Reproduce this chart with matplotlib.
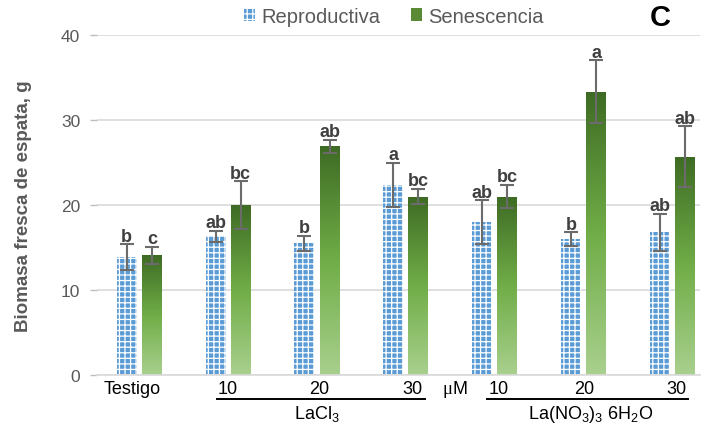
import numpy as np
import matplotlib
matplotlib.use("Agg")
import matplotlib.pyplot as plt
from matplotlib.patches import Patch
from matplotlib.lines import Line2D

plt.rcParams["font.family"] = ["Liberation Sans", "DejaVu Sans"]
plt.rcParams["mathtext.fontset"] = "custom"
plt.rcParams["mathtext.rm"] = "Liberation Sans"
plt.rcParams["mathtext.it"] = "Liberation Sans:italic"
plt.rcParams["hatch.linewidth"] = 0.9

categories = ["Testigo", "10", "20", "30", "10", "20", "30"]
repro = [13.9, 16.3, 15.5, 22.4, 18.0, 16.0, 16.8]
repro_err = [1.5, 0.7, 0.9, 2.6, 2.6, 0.8, 2.2]
senes = [14.1, 20.0, 26.9, 21.0, 21.0, 33.3, 25.7]
senes_err = [1.0, 2.8, 0.8, 0.9, 1.4, 3.7, 3.6]
repro_letters = ["b", "ab", "b", "a", "ab", "b", "ab"]
senes_letters = ["c", "bc", "ab", "bc", "bc", "a", "ab"]

BLUE = "#5B9BD5"
GREEN_TOP = "#3E6B24"
GREEN_BOTTOM = "#A9D08E"
GRAY = "#595959"
ERR = "#6B6B6B"
HATCH = "|||---"

fig = plt.figure(figsize=(7.07, 4.27), dpi=100)
ax = fig.add_axes([0.137, 0.1194, 0.853, 0.7963])

x = np.arange(len(categories))
w = 0.225
off = 0.141

ax.bar(x - off, repro, w, color=BLUE, edgecolor="white", linewidth=0,
       hatch=HATCH, zorder=2)

# green bars carry a vertical gradient, dark at the top
green_bars = ax.bar(x + off, senes, w, color="none", linewidth=0, zorder=2)
cmap = matplotlib.colors.LinearSegmentedColormap.from_list(
    "g", [GREEN_BOTTOM, "#70AD47", GREEN_TOP])
grad = np.linspace(0, 1, 256).reshape(-1, 1)
for bar in green_bars:
    x0, y0 = bar.get_x(), bar.get_y()
    im = ax.imshow(grad, cmap=cmap, origin="lower", aspect="auto",
                   extent=(x0, x0 + bar.get_width(), y0, y0 + bar.get_height()),
                   zorder=2)
    im.set_clip_path(bar)

ax.errorbar(x - off, repro, yerr=repro_err, fmt="none", ecolor=ERR,
            elinewidth=1.5, capsize=5, capthick=1.5, zorder=3)
ax.errorbar(x + off, senes, yerr=senes_err, fmt="none", ecolor=ERR,
            elinewidth=1.5, capsize=5, capthick=1.5, zorder=3)

for xi, v, e, t in zip(x - off, repro, repro_err, repro_letters):
    ax.text(xi, v + e + 0.4, t, ha="center", va="baseline", fontsize=13,
            fontweight="bold", color="#404040", zorder=4)
for xi, v, e, t in zip(x + off, senes, senes_err, senes_letters):
    ax.text(xi, v + e + 0.4, t, ha="center", va="baseline", fontsize=13,
            fontweight="bold", color="#404040", zorder=4)

ax.set_xlim(-0.478, 6.31)
ax.set_ylim(0, 40)
ax.set_yticks([0, 10, 20, 30, 40])
ax.yaxis.grid(True, color="#D9D9D9", linewidth=1.2, zorder=0)
ax.set_axisbelow(True)
for side in ["left", "right", "top"]:
    ax.spines[side].set_visible(False)
ax.spines["bottom"].set_color("#D9D9D9")
ax.spines["bottom"].set_linewidth(1.2)
ax.tick_params(axis="y", colors="#BFBFBF", labelcolor=GRAY, labelsize=12.5,
               length=5, width=1, pad=7)
ax.tick_params(axis="x", length=0)
ax.set_xticks([])
ax.set_ylabel("Biomasa fresca de espata, g", fontsize=13.5, fontweight="bold",
              color=GRAY, labelpad=21)

# category labels and treatment groups below the axis
trans = ax.get_xaxis_transform()
label_shift = [-0.085, 0.0, 0.03, 0.07, 0.04, 0.01, 0.05]
for xi, dx, lab in zip(x, label_shift, categories):
    ax.text(xi + dx, -0.04, lab, transform=trans, ha="center", va="center",
            fontsize=13, color="black")
ax.text(3.53, -0.04, "\u03bc", transform=trans, ha="right", va="center",
        fontsize=13.5, color="black", family=["Liberation Serif"])
ax.text(3.53, -0.04, "M", transform=trans, ha="left", va="center",
        fontsize=13, color="black")
for x0, x1 in [(0.872, 3.214), (3.912, 6.175)]:
    ax.add_line(Line2D([x0, x1], [-0.072, -0.072], transform=trans,
                       color="black", linewidth=1.4, clip_on=False))
ax.text(2.0, -0.112, r"LaCl$_\mathregular{3}$", transform=trans, ha="center",
        va="center", fontsize=13, color="black")
ax.text(5.08, -0.112,
        r"La(NO$_\mathregular{3}$)$_\mathregular{3}$ 6H$_\mathregular{2}$O",
        transform=trans, ha="center", va="center", fontsize=13, color="black")

handles = [
    Patch(facecolor=BLUE, edgecolor="white", linewidth=0, hatch=HATCH,
          label="Reproductiva"),
    Patch(facecolor="#5A8A35", edgecolor="none", label="Senescencia"),
]
fig.legend(handles=handles, loc="center", bbox_to_anchor=(0.557, 0.96),
           ncol=2, frameon=False, fontsize=14.5, handlelength=0.55,
           handleheight=0.55, handletextpad=0.3, columnspacing=1.5,
           labelcolor=GRAY)

fig.text(0.934, 0.958, "C", fontsize=21, fontweight="bold", color="black",
         ha="center", va="center")

fig.savefig("out.png", dpi=100)
